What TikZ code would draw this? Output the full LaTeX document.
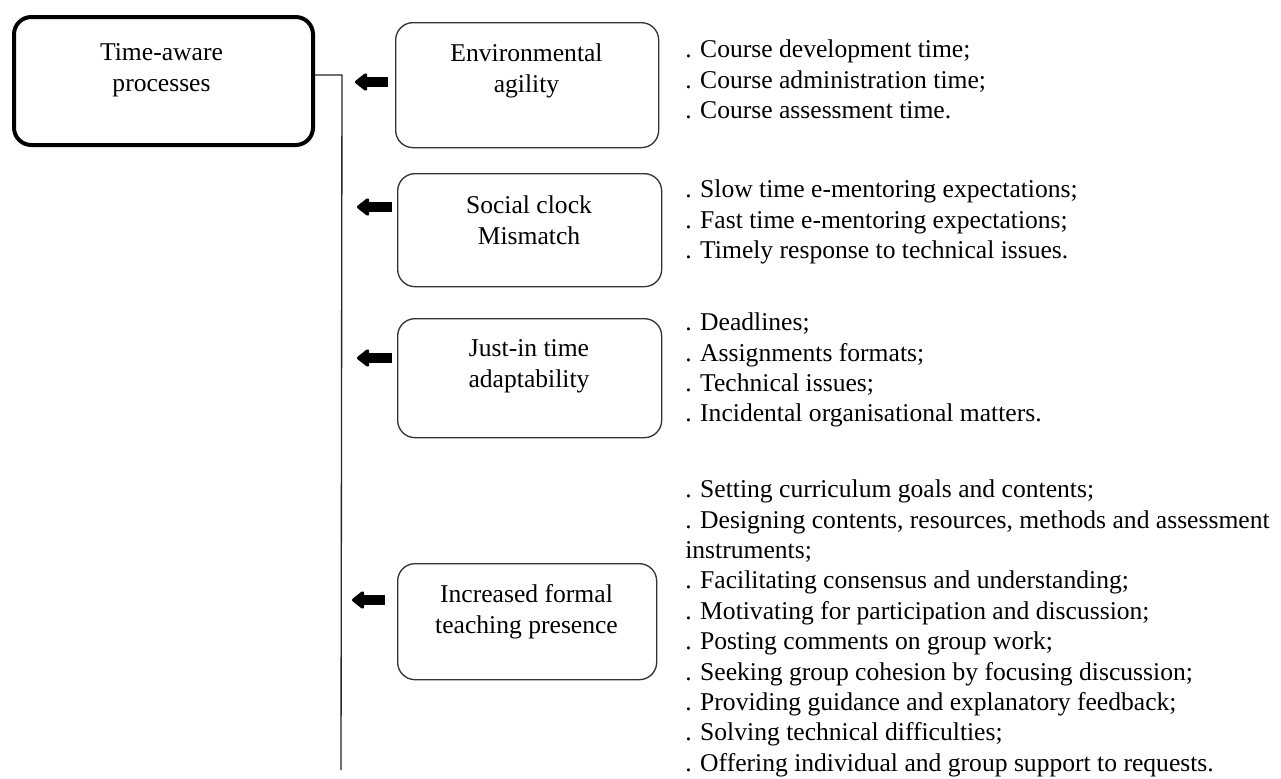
\documentclass[tikz,border=0pt]{standalone}
\usepackage{fontspec}
\setmainfont{Liberation Serif}
\usetikzlibrary{arrows.meta}
\begin{document}
\begin{tikzpicture}[x=0.75pt,y=-0.75pt,
  mainbox/.style={draw=black, line width=3pt, rounded corners=13pt, anchor=north west, inner sep=0pt},
  subbox/.style={draw=black!80, line width=1pt, rounded corners=13pt, anchor=north west, inner sep=0pt},
  boxtext/.style={anchor=north, align=center, inner sep=0pt, font=\fontsize{19.2pt}{23.25pt}\selectfont},
  listtext/.style={anchor=north west, align=left, inner sep=0pt, font=\fontsize{19.2pt}{22.8pt}\selectfont},
  fatarrow/.style={line width=8pt, -{Triangle[length=10pt,width=15pt,round]}},
  trunk/.style={line width=1pt, black!85}]
\useasboundingbox[fill=white] (0,0) rectangle (1281,778);

% boxes
\node[mainbox, minimum width=224.25pt, minimum height=96pt] (m) at (12,15) {};
\node[subbox, minimum width=197.25pt, minimum height=93.75pt] (b1) at (395,22) {};
\node[subbox, minimum width=198pt, minimum height=84.75pt] (b2) at (397,173) {};
\node[subbox, minimum width=198pt, minimum height=89.25pt] (b3) at (397,318) {};
\node[subbox, minimum width=194.25pt, minimum height=87pt] (b4) at (397,563) {};

% box texts
\node[boxtext] (tm) at (161.5,43) {Time-aware\\processes};
\node[boxtext] (t1) at (526.5,43) {Environmental\\agility};
\node[boxtext] (t2) at (529,195.7) {Social clock\\Mismatch};
\node[boxtext] (t3) at (529,339.7) {Just-in time\\adaptability};
\node[boxtext] (t4) at (526.5,584.7) {Increased formal\\teaching presence};

% lists
\node[listtext] (l1) at (685,39.7) {. Course development time;\\. Course administration time;\\. Course assessment time.};
\node[listtext] (l2) at (685,179.7) {. Slow time e-mentoring expectations;\\. Fast time e-mentoring expectations;\\. Timely response to technical issues.};
\node[listtext] (l3) at (685,312.7) {. Deadlines;\\. Assignments formats;\\. Technical issues;\\. Incidental organisational matters.};
\node[listtext] (l4) at (685,479.7) {. Setting curriculum goals and contents;\\. Designing contents, resources, methods and assessment\\instruments;\\. Facilitating consensus and understanding;\\. Motivating for participation and discussion;\\. Posting comments on group work;\\. Seeking group cohesion by focusing discussion;\\. Providing guidance and explanatory feedback;\\. Solving technical difficulties;\\. Offering individual and group support to requests.};

% trunk line
\coordinate (corner) at (342,75);
\coordinate (bottom) at (341,770);
\draw[trunk] (m.east |- corner) -- (corner) -- (bottom);

% arrows
\coordinate (a1s) at (388,82);  \coordinate (a1e) at (355,82);
\coordinate (a2s) at (392,207); \coordinate (a2e) at (357,207);
\coordinate (a3s) at (392,358); \coordinate (a3e) at (357,358);
\coordinate (a4s) at (385,600); \coordinate (a4e) at (352,600);
\draw[fatarrow] (a1s) -- (a1e);
\draw[fatarrow] (a2s) -- (a2e);
\draw[fatarrow] (a3s) -- (a3e);
\draw[fatarrow] (a4s) -- (a4e);
\end{tikzpicture}
\end{document}
